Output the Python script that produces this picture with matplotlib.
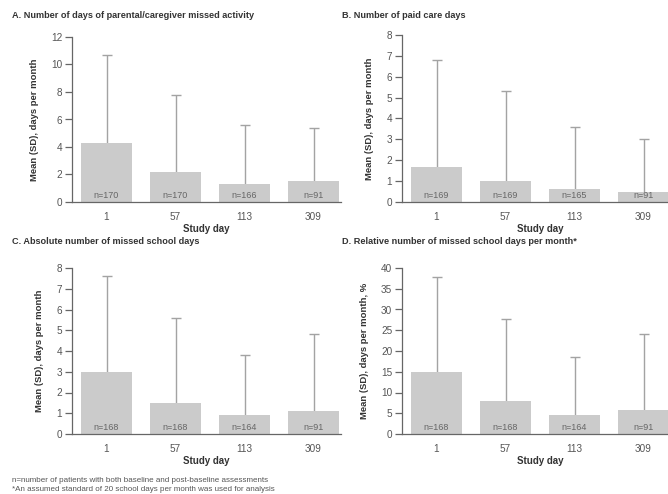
import numpy as np
import matplotlib
matplotlib.use("Agg")
import matplotlib.pyplot as plt

plt.rcParams["font.family"] = ["Liberation Sans", "DejaVu Sans"]

days = ["1", "57", "113", "309"]

# panel A: parental/caregiver missed activity
a_mean = [4.3, 2.2, 1.3, 1.5]
a_top = [10.7, 7.8, 5.6, 5.4]
a_n = [170, 170, 166, 91]
# panel B: paid care days
b_mean = [1.7, 1.0, 0.6, 0.5]
b_top = [6.8, 5.3, 3.6, 3.0]
b_n = [169, 169, 165, 91]
# panel C: absolute missed school days
c_mean = [3.0, 1.5, 0.9, 1.1]
c_top = [7.6, 5.6, 3.8, 4.8]
c_n = [168, 168, 164, 91]
# panel D: relative missed school days (%)
d_mean = [14.9, 8.0, 4.5, 5.7]
d_top = [37.8, 27.8, 18.6, 24.1]
d_n = [168, 168, 164, 91]

BAR = "#cbcbcb"; ERR = "#a3a3a3"; SPINE = "#666666"; TXT = "#333333"

W, H = 668, 494
fig = plt.figure(figsize=(W / 100, H / 100), dpi=100)
fig.patch.set_facecolor("white")

def px_axes(l, r, t, b):
    return fig.add_axes([l / W, 1 - b / H, (r - l) / W, (b - t) / H])

PANELS = [
    ("A. Number of days of parental/caregiver missed activity", a_mean, a_top, a_n,
     (72, 341, 37, 202), 12, 2, "Mean (SD), days per month", (12, 15)),
    ("B. Number of paid care days", b_mean, b_top, b_n,
     (402, 678, 35, 202), 8, 1, "Mean (SD), days per month", (342, 15)),
    ("C. Absolute number of missed school days", c_mean, c_top, c_n,
     (72, 341, 268, 434), 8, 1, "Mean (SD), days per month", (12, 241)),
    ("D. Relative number of missed school days per month*", d_mean, d_top, d_n,
     (402, 678, 268, 434), 40, 5, "Mean (SD), days per month, %", (342, 241)),
]

x = np.arange(len(days))
for title, mean, top, n, box, ymax, step, ylab, tpos in PANELS:
    l, r, t, b = box
    ax = px_axes(l, r, t, b)
    unit = 69.0
    left = -0.5
    ax.set_xlim(left, left + (r - l) / unit)
    ax.set_ylim(0, ymax)
    mean = np.array(mean); sd = np.array(top) - mean
    ax.errorbar(x, mean, yerr=[mean, sd], fmt="none", ecolor=ERR, elinewidth=1.0,
                capsize=3.5, capthick=1.0, zorder=1)
    ax.bar(x, mean, width=0.75, color=BAR, zorder=2)
    for xi, ni in zip(x, n):
        ax.annotate(f"n={ni}", (xi, 0), xytext=(0, 1.5), textcoords="offset points",
                    ha="center", va="bottom", fontsize=6.5, color="#666666", zorder=3)
    ax.set_yticks(np.arange(0, ymax + step / 2, step))
    ax.set_xticks(x, days)
    for s in ("top", "right"):
        ax.spines[s].set_visible(False)
    for s in ("left", "bottom"):
        ax.spines[s].set_color(SPINE); ax.spines[s].set_linewidth(0.9)
    ax.tick_params(axis="y", length=5, width=0.9, color=SPINE, labelsize=7.2,
                   labelcolor="#555555", pad=2)
    ax.tick_params(axis="x", length=0, labelsize=7.2, labelcolor="#555555", pad=7)
    ax.set_xlabel("Study day", fontsize=7, fontweight="bold", color=TXT, labelpad=1.5)
    ax.set_ylabel(ylab, fontsize=6.8, fontweight="bold", color=TXT, labelpad=9)
    fig.text(tpos[0] / W, 1 - tpos[1] / H, title, fontsize=6.6, fontweight="bold",
             color=TXT, va="center", ha="left")

fig.text(12 / W, 1 - 480 / H, "n=number of patients with both baseline and post-baseline assessments",
         fontsize=5.75, color="#555555", va="center")
fig.text(12 / W, 1 - 489 / H, "*An assumed standard of 20 school days per month was used for analysis",
         fontsize=5.75, color="#555555", va="center")

fig.savefig("out.png", dpi=100)
